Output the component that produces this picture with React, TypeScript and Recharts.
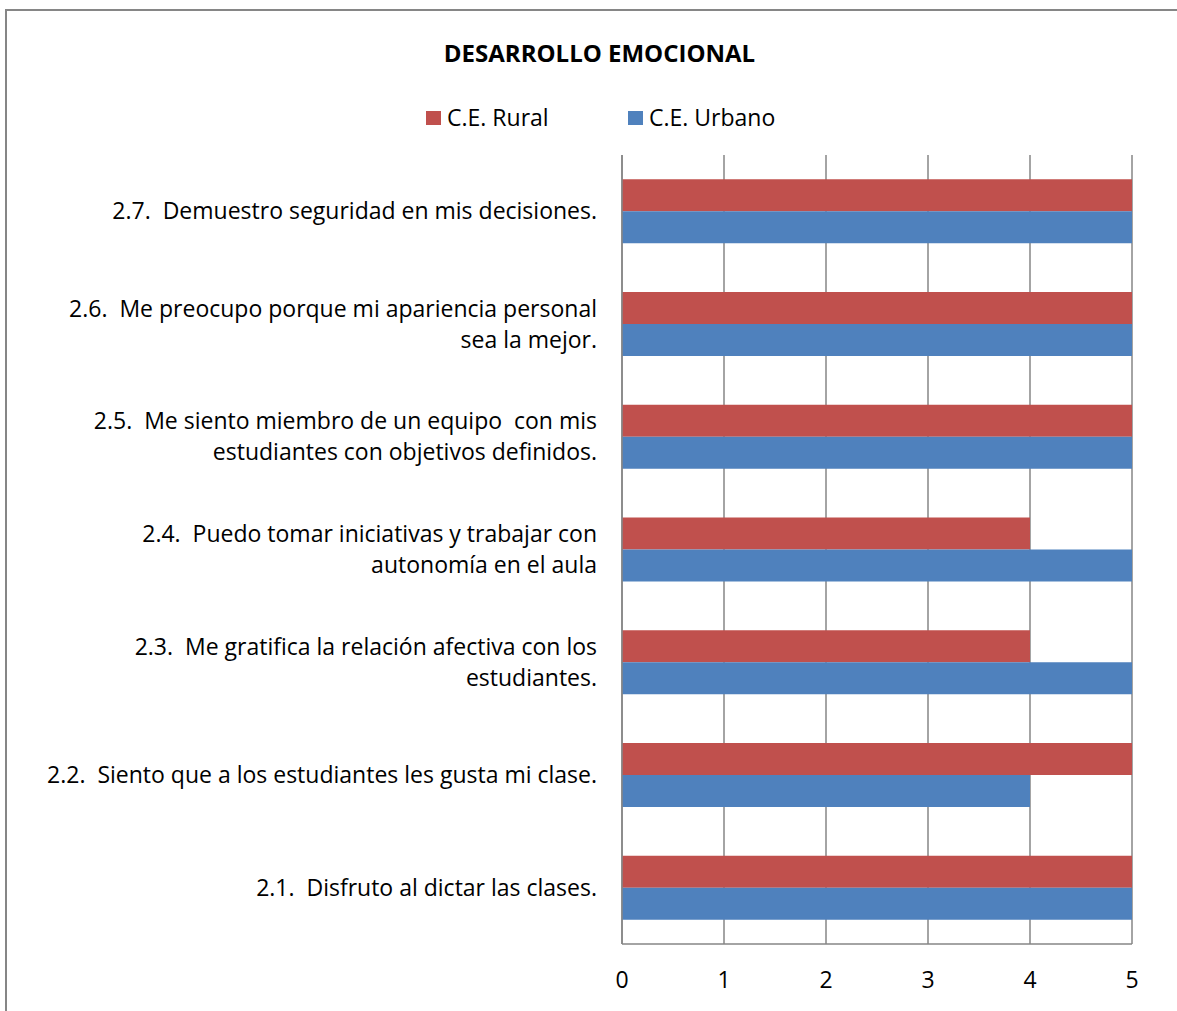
import React from 'react';
import { BarChart, Bar, XAxis, YAxis, CartesianGrid, Legend } from 'recharts';

const categories = [
  '2.7.  Demuestro seguridad en mis decisiones.',
  '2.6.  Me preocupo porque mi apariencia personal\nsea la mejor.',
  '2.5.  Me siento miembro de un equipo  con mis\nestudiantes con objetivos definidos.',
  '2.4.  Puedo tomar iniciativas y trabajar con\nautonomía en el aula',
  '2.3.  Me gratifica la relación afectiva con los\nestudiantes.',
  '2.2.  Siento que a los estudiantes les gusta mi clase.',
  '2.1.  Disfruto al dictar las clases.',
];
const rural = [5, 5, 5, 4, 4, 5, 5];
const urbano = [5, 5, 5, 5, 5, 4, 5];
const xTicks = [0, 1, 2, 3, 4, 5];

const data = categories.map((c, i) => ({ name: c, rural: rural[i], urbano: urbano[i] }));

const FONT = "'Open Sans', sans-serif";
const FS = 23;
const RED = '#C0504D';
const BLUE = '#4F81BD';
const GRID = '#868686';

const YTick = (props: any) => {
  const { x, y, payload } = props;
  const lines = String(payload.value).split('\n');
  const lh = 31;
  const start = y - ((lines.length - 1) * lh) / 2;
  return (
    <text x={x} y={start} textAnchor="end" fontFamily={FONT} fontSize={FS} fill="#000" style={{ whiteSpace: 'pre' }}>
      {lines.map((l, i) => (
        <tspan key={i} x={x} y={start + i * lh} dy="0.35em">{l}</tspan>
      ))}
    </text>
  );
};

const LegendContent = () => (
  <div style={{ position: 'relative', height: 24, fontFamily: FONT, fontSize: FS }}>
    <div style={{ position: 'absolute', left: 426, top: 6, width: 15, height: 14, background: RED }} />
    <div style={{ position: 'absolute', left: 447, top: -4, whiteSpace: 'pre' }}>C.E. Rural</div>
    <div style={{ position: 'absolute', left: 628, top: 6, width: 15, height: 14, background: BLUE }} />
    <div style={{ position: 'absolute', left: 649, top: -4, whiteSpace: 'pre' }}>C.E. Urbano</div>
  </div>
);

export default function App() {
  return (
    <div style={{ position: 'absolute', left: 0, top: 0, width: 1177, height: 1011, background: '#fff', overflow: 'hidden' }}>
      <div style={{ position: 'absolute', left: 5, top: 9, width: 1300, height: 1100, borderLeft: `2px solid ${GRID}`, borderTop: `2px solid ${GRID}` }} />
      <div style={{ position: 'absolute', left: 0, width: 1199, top: 36, textAlign: 'center', fontFamily: FONT, fontWeight: 'bold', fontSize: 24 }}>
        DESARROLLO EMOCIONAL
      </div>
      <div style={{ position: 'absolute', left: 0, top: 0 }}>
        <BarChart
          width={1177}
          height={1011}
          data={data}
          layout="vertical"
          margin={{ top: 131, right: 45, bottom: 37, left: 0 }}
          barCategoryGap="21.6%"
          barGap={0}
        >
          <CartesianGrid horizontal={false} vertical stroke={GRID} strokeWidth={1.5} />
          <XAxis
            type="number"
            domain={[0, 5]}
            ticks={xTicks}
            interval={0}
            axisLine={{ stroke: GRID, strokeWidth: 1.5 }}
            tickLine={false}
            tickMargin={22}
            tick={{ fontFamily: FONT, fontSize: FS, fill: '#000' }}
          />
          <YAxis
            type="category"
            dataKey="name"
            width={622}
            axisLine={{ stroke: GRID, strokeWidth: 1.5 }}
            tickLine={false}
            tickMargin={19}
            tick={<YTick />}
            interval={0}
          />
          <Legend
            verticalAlign="top"
            align="left"
            content={<LegendContent />}
            wrapperStyle={{ position: 'absolute', top: 105, left: 0, width: 1177 }}
          />
          <Bar dataKey="rural" name="C.E. Rural" fill={RED} isAnimationActive={false} />
          <Bar dataKey="urbano" name="C.E. Urbano" fill={BLUE} isAnimationActive={false} />
        </BarChart>
      </div>
    </div>
  );
}
